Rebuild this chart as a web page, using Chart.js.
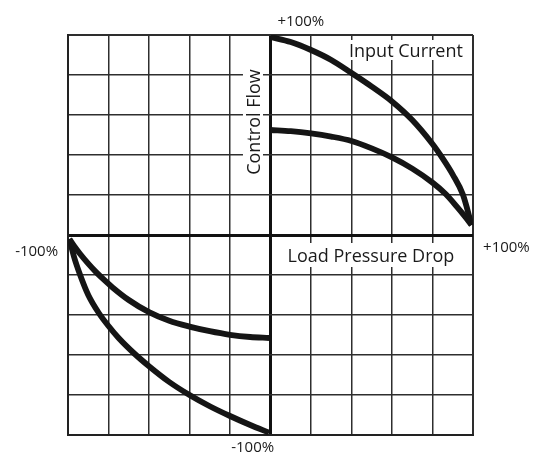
<!DOCTYPE html>
<html>
<head>
<meta charset="utf-8">
<script src="https://cdn.jsdelivr.net/npm/chart.js@4"></script>
<style>
  html, body { margin: 0; padding: 0; background: #ffffff; }
  #wrap { width: 536px; height: 454px; position: relative; }
</style>
</head>
<body>
<div id="wrap"><canvas id="c"></canvas></div>
<script>
// ---- Data (percent of full scale) ----
// Quadrant I: load pressure drop 0..+100 %, control flow
const q1MaxX = [0, 10, 20, 30, 40, 50, 60, 70, 80, 85, 90, 95, 99.3];
const q1MaxY = [99, 96.5, 92.5, 87.5, 81, 74.2, 66.8, 57.5, 45.5, 38.3, 30.2, 20.2, 5];
const q1HalfX = [0, 10, 20, 30, 40, 50, 60, 70, 80, 86.5, 92, 96, 99.3];
const q1HalfY = [52.5, 51.9, 50.8, 49.2, 47, 43.3, 38.8, 33.2, 26.2, 20.5, 14.2, 9.3, 5];
// Quadrant III: load pressure drop -100..0 %, control flow
const q3HalfX = [-99.3, -97, -94, -90, -86, -82, -78, -70, -60, -50, -40, -30, -20, -10, -0.7];
const q3HalfY = [-2, -5.5, -9.5, -14.3, -18.7, -22.6, -26.2, -32.5, -38.6, -42.9, -45.8, -48.1, -49.9, -51, -51.5];
const q3MaxX = [-99.3, -97, -94, -90, -84.8, -80, -75, -67, -60, -50, -40, -30, -20, -10, -0.7];
const q3MaxY = [-2, -11, -20, -30, -39, -45.5, -51.5, -59.5, -65.6, -73.5, -80, -85.6, -90.5, -95, -98.8];

// axis range and grid step
const axisMin = -100, axisMax = 100, gridStep = 20;

// ---- Text labels (anchored in data units) ----
const axisLabels = [
  { text: '+100%', x: 15, y: 104.5, size: 15, align: 'center' },
  { text: '+100%', x: 116.5, y: -8.5, size: 15, align: 'center' },
  { text: '-100%', x: -115.5, y: -10.5, size: 15, align: 'center' },
  { text: '-100%', x: -8.8, y: -108.5, size: 15, align: 'center' }
];
const boxLabels = [
  { text: 'Input Current', x: 66.9, y: 89, box: [37, 97.5, 97.5, 87.5] },
  { text: 'Load Pressure Drop', x: 49.6, y: -13.5, box: [6, -4, 94.5, -16] },
  { text: 'Control Flow', x: -5.2, y: 56.5, rotate: true, box: [-13.6, 86.5, -3.7, 27.5] }
];

function pts(xs, ys) { return xs.map((x, i) => ({ x: x, y: ys[i] })); }

const curveStyle = {
  showLine: true, pointRadius: 0, borderColor: '#151515', borderWidth: 5.8,
  cubicInterpolationMode: 'monotone', fill: false, borderCapStyle: 'butt', borderJoinStyle: 'round'
};

const FONT = '"Open Sans", "DejaVu Sans", sans-serif';

const labelPlugin = {
  id: 'labels',
  beforeDatasetsDraw(chart) {
    const ctx = chart.ctx, xs = chart.scales.x, ys = chart.scales.y;
    ctx.save();
    ctx.fillStyle = '#ffffff';
    boxLabels.forEach(l => {
      const x1 = xs.getPixelForValue(l.box[0]), y1 = ys.getPixelForValue(l.box[1]);
      const x2 = xs.getPixelForValue(l.box[2]), y2 = ys.getPixelForValue(l.box[3]);
      ctx.fillRect(x1, y1, x2 - x1, y2 - y1);
    });
    ctx.fillStyle = '#1a1a1a';
    ctx.textBaseline = 'alphabetic';
    boxLabels.forEach(l => {
      const px = xs.getPixelForValue(l.x), py = ys.getPixelForValue(l.y);
      ctx.font = '500 18px ' + FONT;
      ctx.textAlign = 'center';
      if (l.rotate) {
        ctx.save();
        ctx.translate(px, py);
        ctx.rotate(-Math.PI / 2);
        ctx.fillText(l.text, 0, 0);
        ctx.restore();
      } else {
        ctx.fillText(l.text, px, py);
      }
    });
    axisLabels.forEach(l => {
      ctx.font = '500 ' + l.size + 'px ' + FONT;
      ctx.textAlign = l.align;
      ctx.fillText(l.text, xs.getPixelForValue(l.x), ys.getPixelForValue(l.y));
    });
    ctx.restore();
  }
};

function gridWidth(ctx) {
  const v = ctx.tick ? ctx.tick.value : null;
  if (v === 0) return 3;
  if (v === axisMin || v === axisMax) return 2;
  return 1.5;
}
function gridColor(ctx) {
  const v = ctx.tick ? ctx.tick.value : null;
  return v === 0 ? '#111111' : '#2e2e2e';
}

new Chart(document.getElementById('c'), {
  type: 'scatter',
  data: {
    datasets: [
      Object.assign({ label: 'Q1 max', data: pts(q1MaxX, q1MaxY) }, curveStyle),
      Object.assign({ label: 'Q1 half', data: pts(q1HalfX, q1HalfY) }, curveStyle),
      Object.assign({ label: 'Q3 half', data: pts(q3HalfX, q3HalfY) }, curveStyle),
      Object.assign({ label: 'Q3 max', data: pts(q3MaxX, q3MaxY) }, curveStyle)
    ]
  },
  options: {
    responsive: true,
    maintainAspectRatio: false,
    animation: false,
    layout: { padding: { left: 68, right: 63, top: 35, bottom: 19 } },
    plugins: { legend: { display: false }, tooltip: { enabled: false } },
    scales: {
      x: {
        type: 'linear', min: axisMin, max: axisMax,
        ticks: { display: false, stepSize: gridStep },
        grid: { color: gridColor, lineWidth: gridWidth, drawTicks: false },
        border: { display: true, color: '#222222', width: 2 }
      },
      y: {
        type: 'linear', min: axisMin, max: axisMax,
        ticks: { display: false, stepSize: gridStep },
        grid: { color: gridColor, lineWidth: gridWidth, drawTicks: false },
        border: { display: true, color: '#222222', width: 2 }
      }
    }
  },
  plugins: [labelPlugin]
});
</script>
</body>
</html>
